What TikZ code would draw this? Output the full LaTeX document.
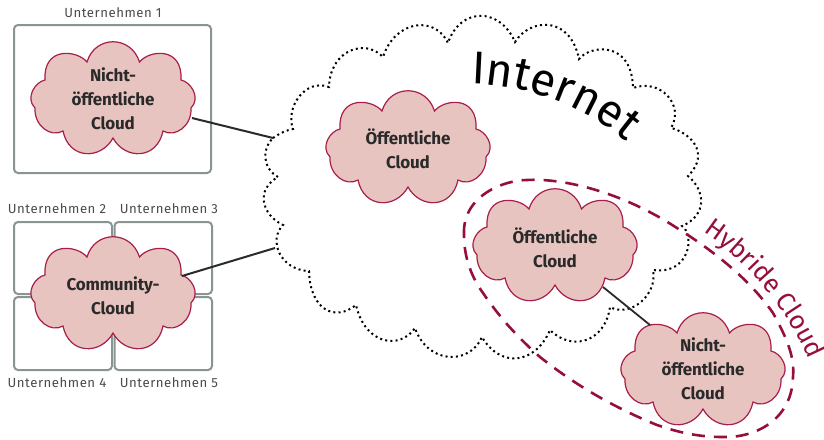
\documentclass[tikz,border=0pt]{standalone}
\usepackage{fontspec}
\setmainfont{Fira Sans}
\usetikzlibrary{decorations.text}
\definecolor{cloudfill}{HTML}{E8C4C0}
\definecolor{cloudline}{HTML}{A81E48}
\definecolor{wine}{HTML}{960F3C}
\definecolor{boxgray}{HTML}{8A9490}
\definecolor{ink}{HTML}{2A2A2A}
\newcommand{\cloudpath}{%
 (-26,-36) .. controls (-18,-63) and (18,-63) .. (26.5,-36)
 .. controls (36,-48) and (70,-52) .. (68,-18)
 .. controls (78,-16) and (88,0) .. (78,10)
 .. controls (79,28) and (62,40) .. (50,33)
 .. controls (44,62) and (12,62) .. (0,40)
 .. controls (-12,62) and (-44,62) .. (-50,33)
 .. controls (-62,40) and (-79,28) .. (-78,10)
 .. controls (-88,0) and (-78,-16) .. (-68,-18)
 .. controls (-70,-52) and (-36,-48) .. (-26,-36) -- cycle}
\tikzset{
 x=1pt,y=-1pt,
 companybox/.style={draw=boxgray,line width=2pt,rounded corners=4pt,fill=white},
 cloudshape/.style={draw=cloudline,fill=cloudfill,line width=1.2pt},
 cloudtext/.style={text=ink,font=\fontsize{17}{24}\selectfont\bfseries\addfontfeature{LetterSpace=-1},align=center,inner sep=0pt},
 complabel/.style={text=ink!85,font=\fontsize{13.2}{15}\selectfont\addfontfeature{LetterSpace=4},inner sep=0pt},
 link/.style={draw=ink,line width=2pt},
 inetline/.style={draw=black,line width=2pt,dash pattern=on 2pt off 3.2pt},
 hybridline/.style={draw=wine,line width=2.6pt,dash pattern=on 13pt off 9pt},
}
\begin{document}
\begin{tikzpicture}
\useasboundingbox (0,0) rectangle (824,439);
% company boxes
\draw[companybox] (14,25) rectangle (211,173);
\draw[companybox] (14,222) rectangle (112,294);
\draw[companybox] (114.5,222) rectangle (212,294);
\draw[companybox] (14,297) rectangle (112,370);
\draw[companybox] (114.5,297) rectangle (212,370);
\node[complabel] (u1) at (113,13) {Unternehmen 1};
\node[complabel] (u2) at (57,209) {Unternehmen 2};
\node[complabel] (u3) at (169,209) {Unternehmen 3};
\node[complabel] (u4) at (57,383) {Unternehmen 4};
\node[complabel] (u5) at (169,383) {Unternehmen 5};
% internet cloud
\draw[inetline] (273,138) .. controls (280,133) and (287,130) .. (293,129)
 .. controls (285,108) and (305,78) .. (329,87)
 .. controls (330,50) and (365,38) .. (383,57)
 .. controls (395,20) and (435,15) .. (448,43)
 .. controls (460,7) and (500,7) .. (515,42)
 .. controls (530,18) and (570,15) .. (579,59)
 .. controls (590,45) and (632,40) .. (633,88)
 .. controls (660,78) and (685,105) .. (671,128)
 .. controls (688,132) and (712,152) .. (688,176)
 .. controls (705,190) and (708,215) .. (682,226)
 .. controls (695,235) and (690,275) .. (653,270)
 .. controls (658,295) and (630,318) .. (610,307)
 .. controls (605,342) and (572,352) .. (550,330)
 .. controls (535,365) and (500,368) .. (482,337)
 .. controls (470,365) and (428,365) .. (415,328)
 .. controls (400,350) and (365,345) .. (356,305)
 .. controls (335,322) and (310,310) .. (309,271)
 .. controls (280,270) and (268,240) .. (283,225)
 .. controls (262,215) and (255,190) .. (278,177)
 .. controls (262,168) and (262,148) .. (273,138);
\coordinate (inetA) at (273,138);
\coordinate (inetB) at (275,248);
% hybrid outline
\draw[hybridline] (464,235) .. controls (462,195) and (505,180) .. (527,180)
 .. controls (560,178) and (620,190) .. (680,230)
 .. controls (715,252) and (750,280) .. (773,313)
 .. controls (785,335) and (795,355) .. (793,377)
 .. controls (792,420) and (755,438) .. (723,437)
 .. controls (700,437) and (680,433) .. (657,425)
 .. controls (615,408) and (575,385) .. (540,357)
 .. controls (515,335) and (498,315) .. (483,293)
 .. controls (470,275) and (464,255) .. (464,235) -- cycle;
% clouds
\draw[cloudshape,shift={(113,98)}] \cloudpath;
\draw[cloudshape,shift={(113,293)}] \cloudpath;
\draw[cloudshape,shift={(408,147)}] \cloudpath;
\draw[cloudshape,shift={(555,245)}] \cloudpath;
\draw[cloudshape,shift={(703,369)}] \cloudpath;
\node[cloudtext] (c1) at (113,99) {Nicht-\\öffentliche\\Cloud};
\node[cloudtext] (c2) at (113,295.5) {Community-\\Cloud};
\node[cloudtext] (c3) at (408,149) {Öffentliche\\Cloud};
\node[cloudtext] (c4) at (555,247.5) {Öffentliche\\Cloud};
\node[cloudtext] (c5) at (703,369) {Nicht-\\öffentliche\\Cloud};
\coordinate (c1e) at (192,118);
\coordinate (c2e) at (182,276);
\coordinate (c4e) at (603,287);
\coordinate (c5e) at (650,325);
% connectors
\draw[link] (c1e) -- (inetA);
\draw[link] (c2e) -- (inetB);
\draw[link,line width=1.8pt] (c4e) -- (c5e);
% curved titles
\path[decorate,decoration={text along path,text align={left indent=0pt,right indent=6pt,fit to path},
  text={|\fontsize{46}{46}\selectfont\color{black}|Internet}}]
  (471,84) .. controls (518,85) and (578,100) .. (628,143);
\path[decorate,decoration={text along path,text align={left indent=0pt,right indent=6pt,fit to path},
  text={|\fontsize{26}{26}\selectfont\color{wine}|Hybride Cloud}}]
  (703,232) .. controls (745,260) and (786,306) .. (810,362);
\end{tikzpicture}
\end{document}
